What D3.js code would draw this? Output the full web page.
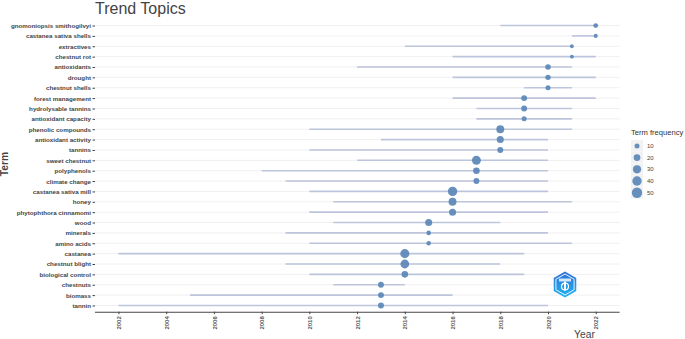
<!DOCTYPE html>
<html>
<head>
<meta charset="utf-8">
<script src="https://cdn.jsdelivr.net/npm/d3@7"></script>
<style>
  body { margin: 0; background: #fff; }
  svg { display: block; font-family: "Liberation Sans", Arial, sans-serif; }
</style>
</head>
<body>
<div id="chart"></div>
<script>
// data
var terms = ['gnomoniopsis smithogilvyi','castanea sativa shells','extractives','chestnut rot',
  'antioxidants','drought','chestnut shells','forest management','hydrolysable tannins',
  'antioxidant capacity','phenolic compounds','antioxidant activity','tannins','sweet chestnut',
  'polyphenols','climate change','castanea sativa mill','honey','phytophthora cinnamomi','wood',
  'minerals','amino acids','castanea','chestnut blight','biological control','chestnuts',
  'biomass','tannin'];
var year_q1 = [2018,2021,2014,2016,2012,2016,2019,2016,2017,2017,2010,2013,2010,2012,2008,2009,2010,2011,2010,2011,2009,2010,2002,2009,2010,2011,2005,2002];
var year_med = [2022,2022,2021,2021,2020,2020,2020,2019,2019,2019,2018,2018,2018,2017,2017,2017,2016,2016,2016,2015,2015,2015,2014,2014,2014,2013,2013,2013];
var year_q3 = [2022,2022,2021,2022,2021,2022,2021,2022,2021,2021,2021,2020,2020,2020,2020,2020,2020,2021,2020,2018,2020,2021,2019,2018,2019,2014,2016,2020];
var term_freq = [9,6,5,5,13,12,10,15,15,10,28,22,15,37,19,15,40,28,22,22,8,8,38,35,19,15,15,15];
var year_ticks = d3.range(2002, 2023, 2);
var legend_values = [10,20,30,40,50];

var width = 685, height = 339;
var panel = {left: 95, right: 619.6, top: 19.3, bottom: 311.7};

var svg = d3.select('#chart').append('svg')
    .attr('width', width).attr('height', height);

var x = d3.scaleLinear().domain([2001, 2023]).range([94.6, 619.6]);
var y = d3.scalePoint().domain(terms).range([panel.top, panel.bottom]).padding(0.6);
var r = d3.scaleRadial().domain([10, 50]).range([2.5, 5.2]);

var rows = terms.map(function(t, i) {
  return {term: t, q1: year_q1[i], med: year_med[i], q3: year_q3[i], freq: term_freq[i]};
});

// grid
svg.append('g').selectAll('line').data(terms).enter().append('line')
  .attr('x1', panel.left).attr('x2', panel.right)
  .attr('y1', function(d) { return y(d); }).attr('y2', function(d) { return y(d); })
  .attr('stroke', '#f0f0f0').attr('stroke-width', 1);

// segments
svg.append('g').selectAll('line').data(rows).enter().append('line')
  .attr('x1', function(d) { return x(d.q1); })
  .attr('x2', function(d) { return x(d.q3); })
  .attr('y1', function(d) { return y(d.term); })
  .attr('y2', function(d) { return y(d.term); })
  .attr('stroke', '#bcc5dc').attr('stroke-width', 1.6);

// points
svg.append('g').selectAll('circle').data(rows).enter().append('circle')
  .attr('cx', function(d) { return x(d.med); })
  .attr('cy', function(d) { return y(d.term); })
  .attr('r', function(d) { return r(d.freq); })
  .attr('fill', '#5b87b7').attr('fill-opacity', 0.92);

// y axis
var yAxis = svg.append('g').attr('transform', 'translate(' + panel.left + ',0)')
  .call(d3.axisLeft(y).tickSize(2.5).tickPadding(1.5));
yAxis.select('.domain').remove();
yAxis.selectAll('line').attr('stroke', '#444');
yAxis.selectAll('text').attr('font-size', 6.2).attr('font-weight', 'bold')
  .attr('fill', '#444').attr('font-family', '"Liberation Sans", Arial, sans-serif');

// x axis
var xAxis = svg.append('g').attr('transform', 'translate(0,' + panel.bottom + ')')
  .call(d3.axisBottom(x).tickValues(year_ticks).tickFormat(d3.format('d')).tickSize(2.5).tickSizeOuter(0));
xAxis.select('.domain').attr('d', 'M' + panel.left + ',0.5H' + panel.right).attr('stroke', '#444').attr('stroke-width', 1.1);
xAxis.selectAll('.tick line').attr('stroke', '#444');
xAxis.selectAll('text')
  .attr('font-size', 6).attr('font-weight', 'bold').attr('fill', '#555')
  .attr('font-family', '"Liberation Sans", Arial, sans-serif')
  .attr('transform', 'rotate(-90)')
  .attr('text-anchor', 'end').attr('x', -4.5).attr('y', 0).attr('dy', '0.35em');

// titles
svg.append('text').attr('x', 95).attr('y', 14).text('Trend Topics')
  .attr('font-size', 16).attr('fill', '#444');
svg.append('text').attr('transform', 'translate(8.3,164) rotate(-90)')
  .attr('text-anchor', 'middle').text('Term')
  .attr('font-size', 10.3).attr('font-weight', 'bold').attr('fill', '#444');
svg.append('text').attr('x', 574).attr('y', 337.5).text('Year')
  .attr('font-size', 10.3).attr('fill', '#444');

// legend
var leg = svg.append('g').attr('transform', 'translate(631,0)');
leg.append('text').attr('x', 0).attr('y', 135).text('Term frequency')
  .attr('font-size', 7.6).attr('fill', '#333');
var keys = leg.selectAll('g').data(legend_values).enter().append('g')
  .attr('transform', function(d, i) { return 'translate(0,' + (140 + i * 11.7) + ')'; });
keys.append('rect').attr('width', 12).attr('height', 11.7).attr('fill', '#f2f2f2');
keys.append('circle').attr('cx', 6).attr('cy', 5.9).attr('r', function(d) { return r(d); })
  .attr('fill', '#5b87b7').attr('fill-opacity', 0.92);
keys.append('text').attr('x', 16).attr('y', 5.9).attr('dy', '0.35em').text(function(d) { return d; })
  .attr('font-size', 6).attr('fill', '#444');

// logo (hexagon badge)
var logo = svg.append('g').attr('transform', 'translate(565,284.5)');
var grad = svg.append('defs').append('linearGradient').attr('id', 'lg')
  .attr('x1', 0).attr('y1', 0).attr('x2', 0).attr('y2', 1);
grad.append('stop').attr('offset', '0%').attr('stop-color', '#2f6fd8');
grad.append('stop').attr('offset', '100%').attr('stop-color', '#1fb6f0');
function hex(R) {
  return d3.range(6).map(function(i) {
    var a = Math.PI / 3 * i - Math.PI / 2;
    return [R * Math.cos(a), R * Math.sin(a)];
  });
}
logo.append('polygon').attr('points', hex(13).join(' ')).attr('fill', 'url(#lg)');
logo.append('polygon').attr('points', hex(10.5).join(' ')).attr('fill', 'none')
  .attr('stroke', '#fff').attr('stroke-width', 0.9);
logo.append('rect').attr('x', -6).attr('y', -6).attr('width', 12).attr('height', 3).attr('fill', '#fff').attr('opacity', 0.8);
logo.append('circle').attr('cx', 0).attr('cy', 2).attr('r', 3.5).attr('fill', 'none').attr('stroke', '#fff').attr('stroke-width', 1.2);
logo.append('rect').attr('x', -1).attr('y', -3).attr('width', 2).attr('height', 9).attr('fill', '#fff');
</script>
</body>
</html>
